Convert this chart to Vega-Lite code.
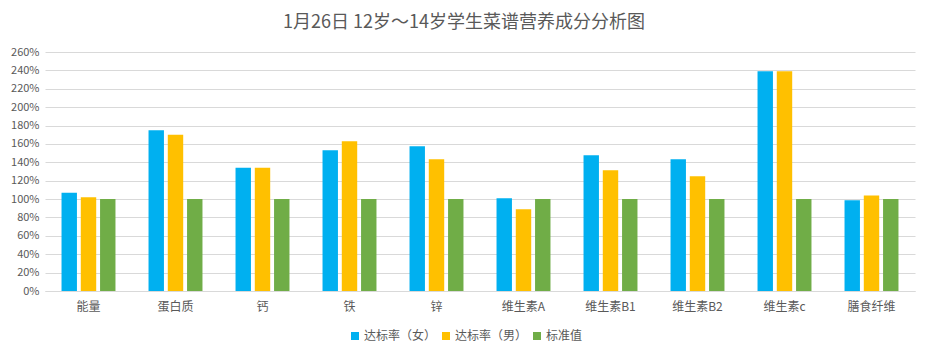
{
  "$schema": "https://vega.github.io/schema/vega-lite/v6.json",
  "width": 870,
  "height": 239,
  "autosize": {"type": "none"},
  "padding": {"left": 45, "top": 52, "right": 15, "bottom": 63},
  "background": "white",
  "title": {
    "text": "1月26日 12岁～14岁学生菜谱营养成分分析图",
    "font": "Noto Sans CJK SC",
    "fontSize": 18,
    "fontWeight": "normal",
    "color": "#595959",
    "anchor": "middle",
    "dx": -16,
    "offset": 14
  },
  "data": {
    "values": [
      {"item": "能量", "series": "达标率（女）", "value": 1.07},
      {"item": "能量", "series": "达标率（男）", "value": 1.02},
      {"item": "能量", "series": "标准值", "value": 1.0},
      {"item": "蛋白质", "series": "达标率（女）", "value": 1.75},
      {"item": "蛋白质", "series": "达标率（男）", "value": 1.70},
      {"item": "蛋白质", "series": "标准值", "value": 1.0},
      {"item": "钙", "series": "达标率（女）", "value": 1.34},
      {"item": "钙", "series": "达标率（男）", "value": 1.34},
      {"item": "钙", "series": "标准值", "value": 1.0},
      {"item": "铁", "series": "达标率（女）", "value": 1.53},
      {"item": "铁", "series": "达标率（男）", "value": 1.63},
      {"item": "铁", "series": "标准值", "value": 1.0},
      {"item": "锌", "series": "达标率（女）", "value": 1.575},
      {"item": "锌", "series": "达标率（男）", "value": 1.433},
      {"item": "锌", "series": "标准值", "value": 1.0},
      {"item": "维生素A", "series": "达标率（女）", "value": 1.01},
      {"item": "维生素A", "series": "达标率（男）", "value": 0.89},
      {"item": "维生素A", "series": "标准值", "value": 1.0},
      {"item": "维生素B1", "series": "达标率（女）", "value": 1.477},
      {"item": "维生素B1", "series": "达标率（男）", "value": 1.313},
      {"item": "维生素B1", "series": "标准值", "value": 1.0},
      {"item": "维生素B2", "series": "达标率（女）", "value": 1.433},
      {"item": "维生素B2", "series": "达标率（男）", "value": 1.248},
      {"item": "维生素B2", "series": "标准值", "value": 1.0},
      {"item": "维生素c", "series": "达标率（女）", "value": 2.39},
      {"item": "维生素c", "series": "达标率（男）", "value": 2.39},
      {"item": "维生素c", "series": "标准值", "value": 1.0},
      {"item": "膳食纤维", "series": "达标率（女）", "value": 0.987},
      {"item": "膳食纤维", "series": "达标率（男）", "value": 1.04},
      {"item": "膳食纤维", "series": "标准值", "value": 1.0}
    ]
  },
  "mark": {"type": "bar"},
  "encoding": {
    "x": {
      "field": "item",
      "type": "nominal",
      "sort": null,
      "scale": {"paddingInner": 0.38, "paddingOuter": 0.19},
      "axis": {
        "title": null,
        "labelAngle": 0,
        "ticks": false,
        "domain": true,
        "domainColor": "#d9d9d9",
        "labelFont": "Noto Sans CJK SC",
        "labelFontSize": 12,
        "labelColor": "#595959",
        "labelPadding": 10
      }
    },
    "xOffset": {
      "field": "series",
      "type": "nominal",
      "sort": ["达标率（女）", "达标率（男）", "标准值"],
      "scale": {"paddingInner": 0.2}
    },
    "y": {
      "field": "value",
      "type": "quantitative",
      "scale": {"domain": [0, 2.6], "nice": false},
      "axis": {
        "title": null,
        "format": ".0%",
        "values": [0, 0.2, 0.4, 0.6, 0.8, 1.0, 1.2, 1.4, 1.6, 1.8, 2.0, 2.2, 2.4, 2.6],
        "domain": false,
        "ticks": false,
        "gridColor": "#d9d9d9",
        "labelFont": "Noto Sans CJK SC",
        "labelFontSize": 11,
        "labelColor": "#595959",
        "labelPadding": 6
      }
    },
    "color": {
      "field": "series",
      "type": "nominal",
      "sort": ["达标率（女）", "达标率（男）", "标准值"],
      "scale": {
        "domain": ["达标率（女）", "达标率（男）", "标准值"],
        "range": ["#00B0F0", "#FFC000", "#70AD47"]
      },
      "legend": {
        "title": null,
        "orient": "none",
        "legendX": 304,
        "legendY": 278,
        "direction": "horizontal",
        "symbolType": "square",
        "symbolSize": 64,
        "symbolStrokeWidth": 0,
        "labelFont": "Noto Sans CJK SC",
        "labelFontSize": 12,
        "labelColor": "#595959",
        "columnPadding": 3,
        "labelOffset": 3
      }
    }
  },
  "config": {"view": {"stroke": null}}
}
